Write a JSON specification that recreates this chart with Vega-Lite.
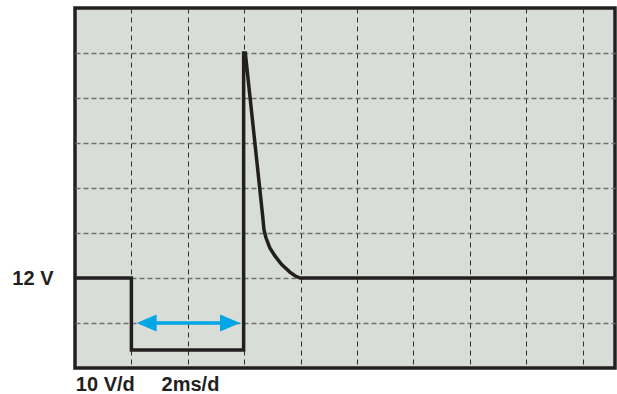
{
  "$schema": "https://vega.github.io/schema/vega-lite/v6.json",
  "autosize": "none",
  "width": 540,
  "height": 360,
  "padding": {"left": 75, "top": 8, "right": 2, "bottom": 26},
  "background": "#ffffff",
  "config": {
    "view": {"fill": "#d9ddd8", "stroke": "#231f20", "strokeWidth": 3.5},
    "font": "Liberation Sans"
  },
  "datasets": {
    "wave": [
      {"i": 1, "t": 0, "v": 12},
      {"i": 2, "t": 2.0, "v": 12},
      {"i": 3, "t": 2.0, "v": -4},
      {"i": 4, "t": 5.98, "v": -4},
      {"i": 5, "t": 5.98, "v": 62},
      {"i": 6, "t": 6.04, "v": 62},
      {"i": 7, "t": 6.66, "v": 25.5},
      {"i": 8, "t": 6.70, "v": 22.8},
      {"i": 9, "t": 6.77, "v": 21.0},
      {"i": 10, "t": 6.91, "v": 18.7},
      {"i": 11, "t": 7.09, "v": 16.9},
      {"i": 12, "t": 7.33, "v": 15.0},
      {"i": 13, "t": 7.62, "v": 13.3},
      {"i": 14, "t": 7.80, "v": 12.5},
      {"i": 15, "t": 7.98, "v": 12},
      {"i": 16, "t": 19.15, "v": 12}
    ],
    "shaft": [{"t1": 2.6, "t2": 5.45, "v": 2}],
    "heads": [
      {"t": 2.54, "v": 2, "dir": "left"},
      {"t": 5.5, "v": 2, "dir": "right"}
    ],
    "labels": [
      {"t": 0.03, "v": -13.2, "text": "10 V/d"},
      {"t": 3.07, "v": -13.2, "text": "2ms/d"}
    ]
  },
  "layer": [
    {
      "data": {"name": "wave"},
      "mark": {"type": "line", "color": "#231f20", "strokeWidth": 3.5, "strokeJoin": "miter", "strokeCap": "butt"},
      "encoding": {
        "x": {
          "field": "t", "type": "quantitative",
          "scale": {"domain": [0, 19.15], "nice": false, "zero": false},
          "axis": {
            "values": [2, 4, 6, 8, 10, 12, 14, 16, 18],
            "labels": false, "ticks": false, "domain": false, "title": null,
            "grid": true, "gridColor": "#2e2e2e", "gridWidth": 1, "gridDash": [5, 4], "gridOpacity": 1
          }
        },
        "y": {
          "field": "v", "type": "quantitative",
          "scale": {"domain": [-8, 72], "nice": false, "zero": false},
          "axis": {
            "values": [2, 12, 22, 32, 42, 52, 62],
            "labelExpr": "datum.value == 12 ? '12 V' : ''",
            "labelFont": "Liberation Sans", "labelFontWeight": "bold", "labelFontSize": 20,
            "labelColor": "#231f20", "labelPadding": 22, "labelBaseline": "middle",
            "ticks": false, "domain": false, "title": null,
            "grid": true, "gridColor": "#6f706f", "gridWidth": 1.3, "gridDash": [5, 3], "gridOpacity": 1
          }
        },
        "order": {"field": "i", "type": "quantitative"}
      }
    },
    {
      "data": {"name": "shaft"},
      "mark": {"type": "rule", "color": "#00a6e6", "strokeWidth": 3.5},
      "encoding": {
        "x": {"field": "t1", "type": "quantitative"},
        "x2": {"field": "t2"},
        "y": {"field": "v", "type": "quantitative"}
      }
    },
    {
      "data": {"name": "heads"},
      "mark": {"type": "point", "filled": true, "size": 400, "color": "#00a6e6", "opacity": 1, "strokeWidth": 0},
      "encoding": {
        "x": {"field": "t", "type": "quantitative"},
        "y": {"field": "v", "type": "quantitative"},
        "shape": {
          "field": "dir", "type": "nominal",
          "scale": {"domain": ["left", "right"], "range": ["M -1 0 L 1 -0.85 L 1 0.85 Z", "M 1 0 L -1 -0.85 L -1 0.85 Z"]},
          "legend": null
        }
      }
    },
    {
      "data": {"name": "labels"},
      "mark": {"type": "text", "align": "left", "baseline": "alphabetic", "font": "Liberation Sans", "fontWeight": "bold", "fontSize": 20, "color": "#231f20"},
      "encoding": {
        "x": {"field": "t", "type": "quantitative"},
        "y": {"field": "v", "type": "quantitative"},
        "text": {"field": "text"}
      }
    }
  ]
}
